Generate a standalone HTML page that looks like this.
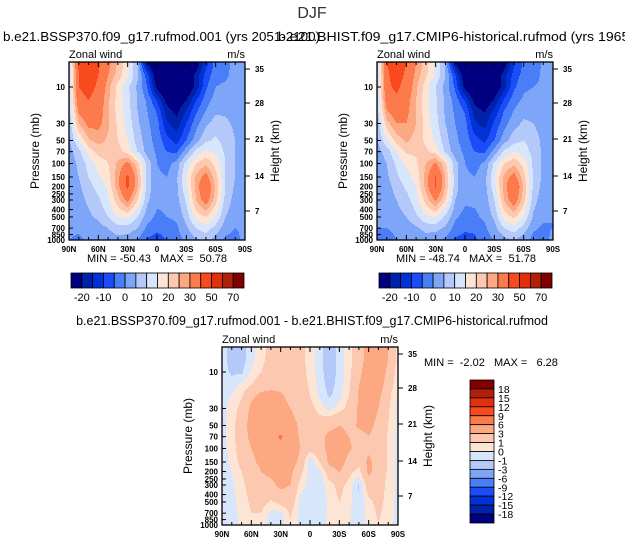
<!DOCTYPE html>
<html><head><meta charset="utf-8"><style>
html,body{margin:0;padding:0;background:#fff}
svg{display:block;font-family:"Liberation Sans",sans-serif}
svg text{white-space:pre}
.tk{font-size:8px;font-weight:bold}
</style></head><body>
<svg id="s" width="625" height="545" viewBox="0 0 625 545">
<text x="312" y="18" font-size="16" fill="#333" text-anchor="middle">DJF</text>
<text x="3" y="41" font-size="13" textLength="317" lengthAdjust="spacingAndGlyphs">b.e21.BSSP370.f09_g17.rufmod.001 (yrs 2051-2100)</text>
<text x="278" y="41" font-size="13" textLength="392" lengthAdjust="spacingAndGlyphs">b.e21.BHIST.f09_g17.CMIP6-historical.rufmod (yrs 1965-2014)</text>
<text x="312" y="325" font-size="12.5" text-anchor="middle">b.e21.BSSP370.f09_g17.rufmod.001 - b.e21.BHIST.f09_g17.CMIP6-historical.rufmod</text>
<text x="157" y="262" font-size="11" text-anchor="middle">MIN = -50.43   MAX =  50.78</text>
<text x="466" y="262" font-size="11" text-anchor="middle">MIN = -48.74   MAX =  51.78</text>
<text x="424" y="366" font-size="11">MIN =  -2.02   MAX =   6.28</text>
</svg>
<script>
const LATS=[90,80,70,60,50,40,30,20,10,0,-10,-20,-30,-40,-50,-60,-70,-80,-90];
const PLEV=[5,7,10,15,20,30,50,70,100,150,200,300,500,700,1000];
const U_SSP=[
[8,42,48,42,32,24,16,5,-20,-30,-35,-35,-30,-24,-12,-3,-2,2,3],
[8,40,47,40,30,23,16,6,-8,-26,-32,-33,-28,-18,-8,-2,-1,2,3],
[8,40,44,38,27,18,11,4,-5,-22,-30,-30,-27,-18,-6,0,1,2,2],
[8,36,40,35,26,18,12,5,-1,-10,-22,-25,-20,-10,-2,2,3,3,3],
[7,32,36,34,26,18,12,5,0,-6,-18,-22,-15,-6,0,4,4,3,3],
[6,25,32,32,26,19,13,6,1,-3,-14,-18,-10,-2,4,7,6,4,3],
[4,15,24,27,24,20,15,8,2,-2,-8,-12,-5,3,9,11,8,5,3],
[3,8,17,22,22,22,18,10,3,-1,-5,-6,3,12,16,14,9,5,3],
[2,6,12,17,20,26,32,22,8,0,-2,2,12,20,24,18,10,5,3],
[2,5,10,14,18,28,42,26,8,1,0,4,15,26,33,22,10,5,3],
[2,4,8,12,16,28,42,26,8,1,1,4,14,27,38,24,10,4,2],
[2,3,6,9,14,23,32,20,6,1,1,3,11,25,34,22,8,3,2],
[2,2,4,6,10,15,16,10,2,-1,0,1,7,17,20,14,5,2,1],
[1,1,2,3,5,8,8,5,-1,-4,-3,-1,4,10,13,8,2,0,1],
[0,-1,1,1,2,3,2,0,-6,-7,-5,-2,1,4,6,3,-1,-2,2]];
const U_HIST=[
[8,40,46,40,30,22,14,4,-20,-30,-34,-34,-30,-23,-11,-4,-3,1,2],
[8,38,45,38,28,21,14,5,-9,-26,-32,-33,-28,-17,-8,-3,-2,1,2],
[8,38,42,36,26,17,10,3,-6,-22,-30,-30,-26,-17,-6,-1,0,1,2],
[8,34,38,33,25,17,11,4,-2,-10,-22,-25,-19,-9,-2,1,2,2,2],
[7,30,35,32,25,17,11,4,-1,-6,-18,-21,-14,-5,0,3,3,2,2],
[6,23,30,30,25,18,12,5,0,-3,-14,-17,-9,-2,3,6,5,3,2],
[4,14,22,26,23,19,14,7,1,-2,-8,-11,-5,3,8,10,7,4,2],
[3,7,15,21,21,21,18,9,2,-1,-5,-6,2,11,15,13,8,4,2],
[2,5,11,16,19,25,31,21,7,0,-2,1,11,20,24,18,9,4,2],
[2,4,9,13,17,27,41,25,7,1,0,3,14,26,33,22,9,4,2],
[2,3,7,11,15,27,41,25,7,1,1,3,13,27,39,24,9,3,2],
[2,2,5,8,13,22,31,20,5,1,1,2,10,25,35,22,7,2,1],
[1,1,3,5,9,14,15,9,1,-2,-1,1,6,17,21,14,4,1,0],
[0,0,1,2,4,7,7,4,-2,-4,-4,-1,3,10,13,8,1,-1,0],
[-1,-2,0,0,1,2,1,-1,-6,-7,-6,-2,0,3,5,2,-2,-3,2]];
const U_DIFF=[
[-0.5,-1.5,-1.5,-0.3,0.5,1.5,1.5,1.5,1.5,0.5,-0.5,-2,-0.5,0.5,2,4,4.5,3,0.5],
[-0.5,-1.5,-1.5,-0.3,0.6,1.6,1.8,1.6,1.5,0.5,-0.5,-2,-0.5,0.5,2,4,4.5,3,0.5],
[-0.5,-1.2,-1.2,0.2,1,1.8,2,1.8,1.6,0.6,-0.5,-1.8,-0.6,0.6,2.5,4.2,4.5,2.5,0.3],
[-0.4,-0.5,0.3,1,2,2.5,2.5,2,1.8,0.8,-0.4,-1.5,-0.5,0.8,3,4.2,4,2,0],
[-0.3,0,0.8,2.5,3.5,3.5,3.2,2.6,2,1,-0.2,-1.2,-0.3,1,3.2,4.2,3.5,1.5,-0.2],
[-0.3,0.3,1.5,3.5,4,4,3.5,3,2.5,1.5,0.5,-0.3,0.5,1.5,3.3,4,3,1.2,-0.3],
[-0.3,0.5,2,3.8,4.2,4.2,4,3.5,2.8,2,1.8,2.5,3,2.5,3.2,3.5,2.5,1,-0.3],
[-0.3,0.5,2,3.5,4.3,4.5,6.5,4,2.8,2,2.5,3.5,3.8,3,2.5,3,2.2,0.8,-0.3],
[-0.4,0.4,1.8,3,4,4.5,5,4.5,3,1.5,2.5,3.5,3.8,3.2,2.5,2.5,2,0.8,-0.3],
[-0.5,0.2,1.5,2.5,3.5,4,4.5,4,2.5,-0.8,1,3.5,3.8,2.5,1.5,3.5,2,0.8,-0.3],
[-0.5,0,1,2,3,3.5,4,3.5,1.5,-0.5,-0.3,2,3.2,1.5,0.5,3.5,2,0.8,-0.3],
[-0.6,-0.2,0.7,1.5,2.2,2.5,3.5,3,0.5,-0.5,-0.5,0.5,1.5,0.5,-1.2,2,1.8,0.6,-0.3],
[-0.7,-0.4,0.5,1.2,1.5,0.8,1.5,2,-0.3,-0.6,-0.6,0.2,1,0.3,-0.8,0.6,1.5,0.5,-0.3],
[-0.7,-0.5,0.3,1,1,-0.3,-0.3,1.2,-0.3,-0.5,-0.7,0.3,0.8,0.2,-0.8,0.4,1.2,0.4,-0.3],
[-0.7,-0.5,0.3,0.8,0.5,-0.5,-0.5,0.8,-0.3,-0.5,-0.6,0.3,0.6,0,-0.5,0.3,1,0.3,-0.3]];
const LEV_U=[-20,-15,-10,-5,0,5,10,15,20,25,30,40,50,60,70];
const LEV_D=[-18,-15,-12,-9,-6,-3,-1,0,1,3,6,9,12,15,18];
const CB_U_LABELS=["-20","-10","0","10","20","30","50","70"];
const CB_D_LABELS=["18","15","12","9","6","3","1","0","-1","-3","-6","-9","-12","-15","-18"];
const P_TICKS=[10,30,50,70,100,150,200,250,300,400,500,700,850,1000];
const H_TICKS=[35,28,21,14,7];
const LAT_LABELS=["90N","60N","30N","0","30S","60S","90S"];
const COLORS=["#000080","#0022a8","#0032d8","#1a4cf8","#4a7ef8","#7ea6f8","#b4c8fa","#d8e6fb","#fde5d6","#fcc8b0","#fca882","#fc7a4c","#f84a1c","#e0300c","#b02008","#800000"];

const NS="http://www.w3.org/2000/svg";
const svg=document.getElementById('s');
const W=176,H=178,PXDEC=76.5,PTOP=Math.pow(10,1-25/PXDEC);
function yOfP(p){return (Math.log10(p)-Math.log10(PTOP))*PXDEC;}
function pOfY(y){return Math.pow(10,Math.log10(PTOP)+y/PXDEC);}
function xOfLat(lat){return (90-lat)/180*W;}
const H_OFF={35:7,28:41,21:77,14:114,7:149};
function mk(tag,attrs,parent){const e=document.createElementNS(NS,tag);for(const k in attrs)e.setAttribute(k,attrs[k]);(parent||svg).appendChild(e);return e;}
function val(grid,lat,p){
  let fj=(90-lat)/10; fj=Math.max(0,Math.min(LATS.length-1.0001,fj));
  const j=Math.floor(fj),tj=fj-j;
  let i=0; const pc=Math.max(PLEV[0],Math.min(PLEV[PLEV.length-1],p));
  while(i<PLEV.length-2&&PLEV[i+1]<pc)i++;
  const ti=(Math.log(pc)-Math.log(PLEV[i]))/(Math.log(PLEV[i+1])-Math.log(PLEV[i]));
  const a=grid[i][j]*(1-tj)+grid[i][j+1]*tj, b=grid[i+1][j]*(1-tj)+grid[i+1][j+1]*tj;
  return a*(1-ti)+b*ti;
}
function cls(v,lev){let k=0;while(k<lev.length&&v>=lev[k])k++;return k;}
function panel(name,x0,y0,grid,lev){
  const g=mk('g',{transform:`translate(${x0},${y0})`});
  
  
  for(let py=0;py<H;py++){
    const p=pOfY(py+0.5);let start=0,cur=-1;
    for(let px=0;px<=W;px++){
      const c=px<W?cls(val(grid,90-(px+0.5)/W*180,p),lev):-2;
      if(c!==cur){
        if(cur>=0){const r=mk('rect',{x:start,y:py,width:px-start,height:1.05,fill:COLORS[cur]},g);
          
          }
        cur=c;start=px;
      }
    }
  }
  mk('rect',{x:0,y:0,width:W,height:H,fill:'none',stroke:'#000','stroke-width':1.3},g);
  for(let lat=90;lat>=-90;lat-=10){
    const x=xOfLat(lat),len=lat%30===0?5:3;
    mk('line',{x1:x,y1:H,x2:x,y2:H-len,stroke:'#000'},g);
    mk('line',{x1:x,y1:0,x2:x,y2:len,stroke:'#000'},g);
  }
  LAT_LABELS.forEach((t,k)=>{const e=mk('text',{x:k*W/6,y:H+12,'text-anchor':'middle',class:'tk'},g);e.textContent=t;
    });
  P_TICKS.forEach(p=>{const y=yOfP(p);mk('line',{x1:0,y1:y,x2:4,y2:y,stroke:'#000'},g);
    const e=mk('text',{x:-4,y:y+3,'text-anchor':'end',class:'tk'},g);e.textContent=p;
    });
  H_TICKS.forEach(h=>{const y=H_OFF[h];mk('line',{x1:W,y1:y,x2:W+5,y2:y,stroke:'#000'},g);
    const e=mk('text',{x:W+10,y:y+3,class:'tk'},g);e.textContent=h;
    });
  let e=mk('text',{x:0,y:-4,'font-size':11},g);e.textContent='Zonal wind';
  
  e=mk('text',{x:W,y:-4,'font-size':11,'text-anchor':'end'},g);e.textContent='m/s';
  
  e=mk('text',{transform:`translate(-30,${H/2}) rotate(-90)`,'font-size':12,'text-anchor':'middle'},g);e.textContent='Pressure (mb)';
  
  e=mk('text',{transform:`translate(${W+34},${H/2}) rotate(-90)`,'font-size':12,'text-anchor':'middle'},g);e.textContent='Height (km)';
  
}
panel('ssp370-panel',69,62,U_SSP,LEV_U);
panel('hist-panel',377,62,U_HIST,LEV_U);
panel('diff-panel',222,347,U_DIFF,LEV_D);

function hbar(name,x0,y0){
  const g=mk('g',{transform:`translate(${x0},${y0})`});
  
  
  const bw=173/16;
  COLORS.forEach((c,k)=>{const r=mk('rect',{x:k*bw,y:0,width:bw,height:15,fill:c,stroke:'#000','stroke-width':0.8},g);
    });
  CB_U_LABELS.forEach((t,k)=>{const e=mk('text',{x:(2*k+1)*bw,y:28,'font-size':11,'text-anchor':'middle'},g);e.textContent=t;
    });
}
hbar('left-colorbar',71,273);
hbar('right-colorbar',379,273);
(function(){
  const g=mk('g',{transform:'translate(470,380)'});
  
  
  const bh=143/16;
  COLORS.slice().reverse().forEach((c,k)=>{const r=mk('rect',{x:0,y:k*bh,width:24,height:bh,fill:c,stroke:'#000','stroke-width':0.8},g);
    });
  CB_D_LABELS.forEach((t,k)=>{const e=mk('text',{x:28,y:(k+1)*bh+4,'font-size':10.5},g);e.textContent=t;
    });
})();
</script>
</body></html>
